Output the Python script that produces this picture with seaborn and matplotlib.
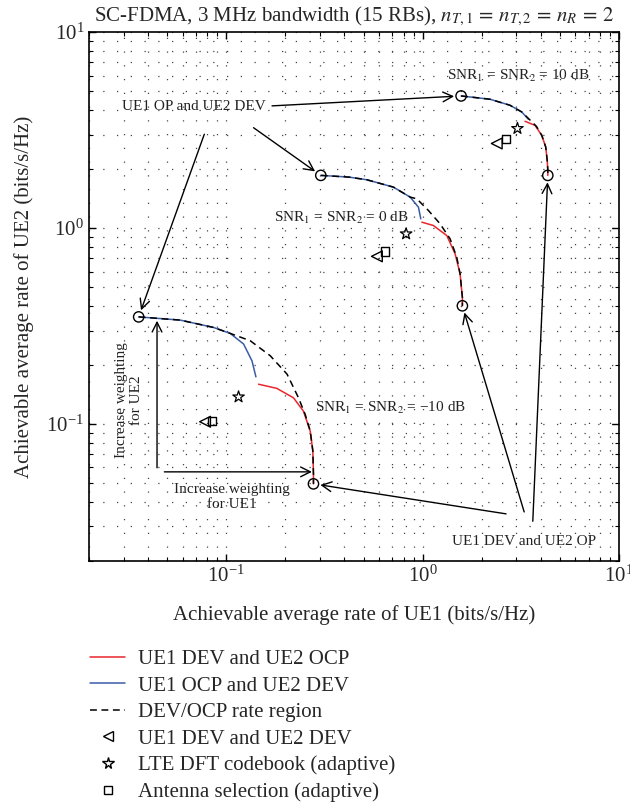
import matplotlib
matplotlib.use("Agg")
import matplotlib.pyplot as plt
from matplotlib.lines import Line2D
from matplotlib.ticker import NullFormatter
import seaborn as sns

sns.set_style("ticks")
plt.rcParams['font.family'] = ['Liberation Serif', 'DejaVu Serif']
plt.rcParams['mathtext.fontset'] = 'stix'

# --- data (bits/s/Hz) ---
# SNR = -10 dB
blue_m10_x = [0.0358, 0.0583, 0.0861, 0.1047, 0.1225, 0.1352, 0.1416]
blue_m10_y = [0.352, 0.339, 0.311, 0.290, 0.256, 0.210, 0.174]
red_m10_x = [0.146, 0.181, 0.220, 0.247, 0.2677, 0.276, 0.278, 0.278]
red_m10_y = [0.1596, 0.152, 0.136, 0.1165, 0.092, 0.0728, 0.0553, 0.0495]
dash_m10_x = [0.0358, 0.0583, 0.0861, 0.1047, 0.1325, 0.1675, 0.204, 0.233, 0.2523, 0.2677, 0.276, 0.278, 0.278]
dash_m10_y = [0.352, 0.339, 0.311, 0.290, 0.266, 0.223, 0.1796, 0.1364, 0.112, 0.092, 0.0728, 0.0553, 0.0495]

# SNR = 0 dB
blue_0_x = [0.303, 0.42, 0.520, 0.710, 0.864, 0.952, 0.979]
blue_0_y = [1.856, 1.82, 1.763, 1.617, 1.438, 1.278, 1.114]
red_0_x = [0.991, 1.135, 1.328, 1.464, 1.552, 1.594, 1.594]
red_0_y = [1.071, 1.030, 0.915, 0.738, 0.583, 0.443, 0.401]
dash_0_x = [0.303, 0.42, 0.520, 0.710, 0.864, 0.934, 1.07, 1.227, 1.38, 1.493, 1.552, 1.594, 1.594]
dash_0_y = [1.856, 1.82, 1.763, 1.617, 1.438, 1.41, 1.229, 1.051, 0.881, 0.709, 0.583, 0.443, 0.401]

# SNR = 10 dB
blue_10_x = [1.57, 2.206, 2.787, 3.197, 3.457]
blue_10_y = [4.72, 4.54, 4.23, 3.91, 3.59]
red_10_x = [3.323, 3.737, 4.044, 4.236, 4.31, 4.34, 4.34]
red_10_y = [3.505, 3.34, 2.97, 2.59, 2.213, 1.985, 1.856]
dash_10_x = [1.57, 2.206, 2.787, 3.197, 3.50, 3.80, 4.044, 4.236, 4.31, 4.34, 4.34]
dash_10_y = [4.72, 4.54, 4.23, 3.91, 3.58, 3.30, 2.97, 2.59, 2.213, 1.985, 1.856]

# operating points (circles): -10 dB, 0 dB, 10 dB
op_x = [0.0358, 0.278, 0.303, 1.594, 1.57, 4.34]
op_y = [0.352, 0.0495, 1.856, 0.401, 4.72, 1.856]

# UE1 DEV and UE2 DEV / LTE DFT codebook / antenna selection
devdev_x = [0.078, 0.585, 2.385]
devdev_y = [0.1027, 0.717, 2.70]
lte_x = [0.1155, 0.824, 3.04]
lte_y = [0.1375, 0.934, 3.22]
antsel_x = [0.0845, 0.644, 2.65]
antsel_y = [0.1035, 0.760, 2.85]

legend_labels = ["UE1 DEV and UE2 OCP", "UE1 OCP and UE2 DEV", "DEV/OCP rate region",
                 "UE1 DEV and UE2 DEV", "LTE DFT codebook (adaptive)", "Antenna selection (adaptive)"]

red = '#e8262b'
blue = '#3a5ba8'
dash = (0, (4.5, 3))

fig = plt.figure(figsize=(6.3, 8.05), dpi=100)
ax = fig.add_axes([0.1413, 0.3031, 0.8412, 0.6571])
ax.set_xscale('log')
ax.set_yscale('log')

curves = [(blue_m10_x, blue_m10_y, red_m10_x, red_m10_y, dash_m10_x, dash_m10_y),
          (blue_0_x, blue_0_y, red_0_x, red_0_y, dash_0_x, dash_0_y),
          (blue_10_x, blue_10_y, red_10_x, red_10_y, dash_10_x, dash_10_y)]
for bx, by, rx, ry, dx, dy in curves:
    sns.lineplot(x=bx, y=by, ax=ax, color=blue, lw=1.1, sort=False, estimator=None)
    sns.lineplot(x=rx, y=ry, ax=ax, color=red, lw=1.1, sort=False, estimator=None)
    sns.lineplot(x=dx, y=dy, ax=ax, color='black', lw=1.1, linestyle=dash, sort=False, estimator=None)

sns.scatterplot(x=op_x, y=op_y, ax=ax, marker='o', s=55, facecolor='none', edgecolor='black', linewidth=1.0, zorder=5)
sns.scatterplot(x=devdev_x, y=devdev_y, ax=ax, marker='<', s=60, facecolor='none', edgecolor='black', linewidth=1.0, zorder=5)
sns.scatterplot(x=lte_x, y=lte_y, ax=ax, marker='*', s=75, facecolor='none', edgecolor='black', linewidth=0.9, zorder=5)
sns.scatterplot(x=antsel_x, y=antsel_y, ax=ax, marker='s', s=36, facecolor='none', edgecolor='black', linewidth=1.0, zorder=5)

ax.set_xlim(0.02, 10)
ax.set_ylim(0.02, 10)
ax.grid(True, which='both', color='#444444', linestyle=(0, (1, 10)), linewidth=0.9)
ax.xaxis.set_minor_formatter(NullFormatter())
ax.yaxis.set_minor_formatter(NullFormatter())
ax.tick_params(which='both', direction='in', top=True, right=True, labelsize=15, color='black')
ax.tick_params(which='major', length=5, width=1.0)
ax.tick_params(which='minor', length=3, width=0.8)
for sp in ax.spines.values():
    sp.set_linewidth(1.2)
    sp.set_color('black')

ax.set_title(r'SC-FDMA, 3 MHz bandwidth (15 RBs), $n_{T,1}\,=\,n_{T,2}\,=\,n_R\,=\,2$', fontsize=15, pad=8)
ax.set_xlabel('Achievable average rate of UE1 (bits/s/Hz)', fontsize=15, labelpad=13)
ax.set_ylabel('Achievable average rate of UE2 (bits/s/Hz)', fontsize=15, labelpad=9)

# annotations
tc = '#222222'
arw = dict(arrowstyle='->,head_length=0.7,head_width=0.35', color='black', lw=1.0, shrinkA=0, shrinkB=5)
ax.text(0.0685, 4.15, 'UE1 OP and UE2 DEV', fontsize=11, color=tc, ha='center', va='center')
ax.annotate('', xy=(1.57, 4.72), xytext=(0.171, 4.2), arrowprops=arw)
ax.annotate('', xy=(0.303, 1.856), xytext=(0.1377, 3.25), arrowprops=arw)
ax.annotate('', xy=(0.0358, 0.352), xytext=(0.0773, 3.01), arrowprops=arw)

ax.text(3.29, 0.0252, 'UE1 DEV and UE2 OP', fontsize=11, color=tc, ha='center', va='center')
ax.annotate('', xy=(0.278, 0.0495), xytext=(2.66, 0.0348), arrowprops=arw)
ax.annotate('', xy=(1.594, 0.401), xytext=(3.29, 0.0356), arrowprops=arw)
ax.annotate('', xy=(4.34, 1.856), xytext=(3.64, 0.0319), arrowprops=arw)

arw2 = dict(arrowstyle='->,head_length=0.7,head_width=0.35', color='black', lw=1.0, shrinkA=0, shrinkB=0)
ax.annotate('', xy=(0.0444, 0.3365), xytext=(0.0444, 0.0598), arrowprops=arw2)
ax.annotate('', xy=(0.273, 0.057), xytext=(0.0484, 0.057), arrowprops=arw2)
ax.text(0.0321, 0.1327, 'Increase weighting\nfor UE2', fontsize=11, color=tc, rotation=90,
        ha='center', va='center', multialignment='center')
ax.text(0.1073, 0.0423, 'Increase weighting\nfor UE1', fontsize=11, color=tc,
        ha='center', va='center', multialignment='center')

ax.text(3.06, 5.96, r'SNR$_1$ = SNR$_2$ = 10 dB', fontsize=11, color=tc, ha='center', va='center')
ax.text(0.385, 1.13, r'SNR$_1$ = SNR$_2$ = 0 dB', fontsize=11, color=tc, ha='center', va='center')
ax.text(0.69, 0.121, 'SNR$_1$ = SNR$_2$ = \u221210 dB', fontsize=11, color=tc, ha='center', va='center')

handles = [Line2D([], [], color=red, lw=1.1),
           Line2D([], [], color=blue, lw=1.1),
           Line2D([], [], color='black', lw=1.1, linestyle=dash),
           Line2D([], [], color='black', lw=0, marker='<', mfc='none', ms=7),
           Line2D([], [], color='black', lw=0, marker='*', mfc='none', ms=8.5),
           Line2D([], [], color='black', lw=0, marker='s', mfc='none', ms=5.5)]
fig.legend(handles, legend_labels, loc='upper left', bbox_to_anchor=(0.1429, 0.193),
           frameon=False, fontsize=15, borderpad=0, borderaxespad=0,
           handlelength=1.7, handletextpad=0.6, labelspacing=0.33)

fig.savefig('out.png', dpi=100)
